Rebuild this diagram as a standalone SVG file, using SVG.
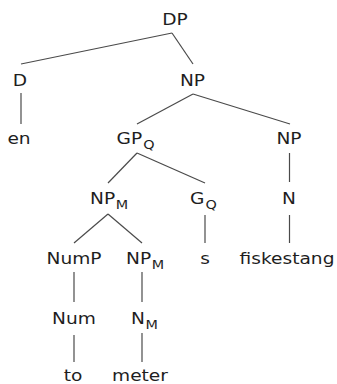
<svg xmlns="http://www.w3.org/2000/svg" width="337" height="384" viewBox="0 0 337 384">
<style>
text{font-family:"DejaVu Sans","Liberation Sans",sans-serif;font-size:15.5px;fill:#1e1e1e}
.m{text-anchor:middle}
.sub{font-size:12px}
#edges line{stroke:#4a4a4a;stroke-width:1.2}
</style>
<rect width="337" height="384" fill="#fff"/>
<g id="edges">
<line x1="172" y1="33" x2="21" y2="64"/>
<line x1="172" y1="33" x2="193" y2="64"/>
<line x1="21" y1="93" x2="21" y2="124"/>
<line x1="193" y1="94" x2="137" y2="124"/>
<line x1="193" y1="94" x2="290" y2="124"/>
<line x1="137" y1="153" x2="108" y2="183"/>
<line x1="137" y1="153" x2="205" y2="183"/>
<line x1="289.5" y1="153" x2="289.5" y2="182"/>
<line x1="108" y1="214" x2="74" y2="243"/>
<line x1="108" y1="214" x2="142" y2="243"/>
<line x1="205" y1="215" x2="205" y2="243"/>
<line x1="289.5" y1="215" x2="289.5" y2="243"/>
<line x1="74" y1="272" x2="74" y2="302"/>
<line x1="142" y1="272" x2="142" y2="302"/>
<line x1="74" y1="335" x2="74" y2="362"/>
<line x1="142" y1="333" x2="142" y2="362"/>
</g>
<g id="n-DP"><text class="m" transform="translate(175,25) scale(1.2,1)">DP</text></g>
<g id="n-D"><text class="m" transform="translate(20,86) scale(1.2,1)">D</text></g>
<g id="n-NP1"><text class="m" transform="translate(192.5,86) scale(1.2,1)">NP</text></g>
<g id="n-en"><text class="m" transform="translate(19,144) scale(1.2,1)">en</text></g>
<g id="n-GPQ"><text transform="translate(116.5,144) scale(1.2,1)">GP<tspan class="sub" dx="1" dy="4.5">Q</tspan></text></g>
<g id="n-NP2"><text class="m" transform="translate(289,144) scale(1.2,1)">NP</text></g>
<g id="n-NPM1"><text transform="translate(90,204) scale(1.2,1)">NP<tspan class="sub" dx="0.5" dy="4.5">M</tspan></text></g>
<g id="n-GQ"><text transform="translate(190,204) scale(1.2,1)">G<tspan class="sub" dx="1" dy="4.5">Q</tspan></text></g>
<g id="n-N"><text class="m" transform="translate(289,204) scale(1.2,1)">N</text></g>
<g id="n-NumP"><text class="m" transform="translate(74,264) scale(1.2,1)">NumP</text></g>
<g id="n-NPM2"><text transform="translate(126,264) scale(1.2,1)">NP<tspan class="sub" dx="0.5" dy="4.5">M</tspan></text></g>
<g id="n-s"><text class="m" transform="translate(205,264) scale(1.2,1)">s</text></g>
<g id="n-fiskestang"><text class="m" transform="translate(287,264) scale(1.2,1)">fiskestang</text></g>
<g id="n-Num"><text class="m" transform="translate(74,324) scale(1.2,1)">Num</text></g>
<g id="n-NM"><text transform="translate(131,324) scale(1.2,1)">N<tspan class="sub" dx="0.5" dy="4.5">M</tspan></text></g>
<g id="n-to"><text class="m" transform="translate(73,381) scale(1.2,1)">to</text></g>
<g id="n-meter"><text class="m" transform="translate(140,381) scale(1.2,1)">meter</text></g>
</svg>
